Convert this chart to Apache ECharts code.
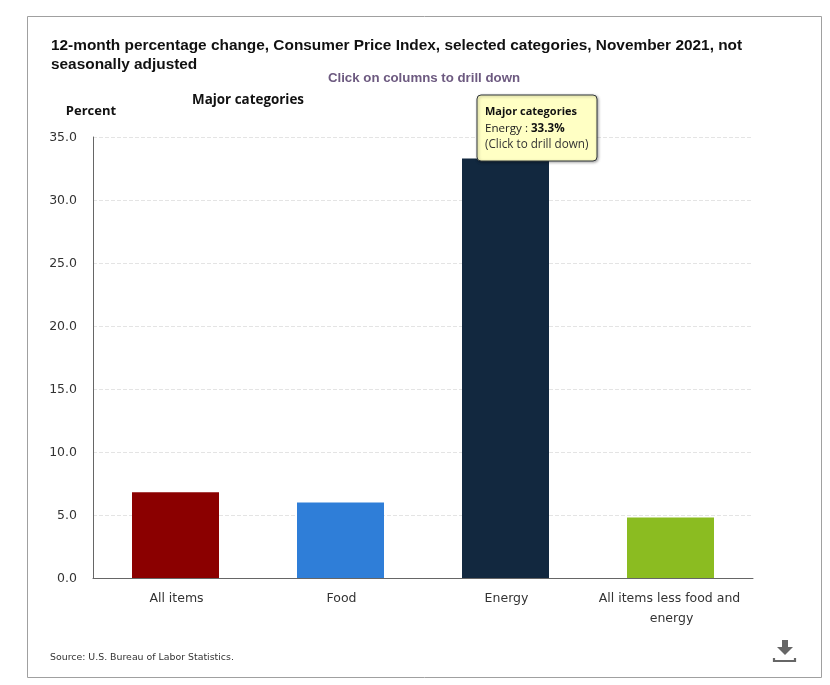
<!DOCTYPE html>
<html><head><meta charset="utf-8">
<style>html,body{margin:0;padding:0;background:#fff}#c{width:830px;height:685px}</style>
<script src="https://cdn.jsdelivr.net/npm/echarts@6/dist/echarts.min.js"></script>
</head><body><div id="c"></div>
<script>
const categories = ['All items', 'Food', 'Energy', 'All items less food and energy'];
const values = [6.8, 6.0, 33.3, 4.8];
const colors = ['#8b0000', '#2f7ed8', '#12283f', '#8bbc21'];
const titleText = '12-month percentage change, Consumer Price Index, selected categories, November 2021, not\nseasonally adjusted';
const subtitleText = 'Click on columns to drill down';
const seriesName = 'Major categories';
const yName = 'Percent';
const sourceText = 'Source: U.S. Bureau of Labor Statistics.';
const tipIndex = 2;

const bodyFont = '"DejaVu Sans", Verdana, sans-serif';
const chart = echarts.init(document.getElementById('c'), null, {renderer: 'canvas'});
chart.setOption({
  animation: false,
  backgroundColor: '#fff',
  grid: {left: 93, right: 77, top: 137, bottom: 107, containLabel: false},
  xAxis: {
    type: 'category', data: categories,
    axisLine: {lineStyle: {color: '#666', width: 1}},
    axisTick: {show: false},
    axisLabel: {color: '#333', fontFamily: bodyFont, fontSize: 12.5, lineHeight: 20, margin: 11, width: 155, overflow: 'break', interval: 0, padding: [0, 0, 0, 2]}
  },
  yAxis: {
    type: 'value', min: 0, max: 35, interval: 5,
    axisLine: {show: true, lineStyle: {color: '#666', width: 1}},
    axisTick: {show: false},
    axisLabel: {color: '#333', fontFamily: bodyFont, fontSize: 12.5, margin: 16, formatter: v => '{v|' + v.toFixed(1) + '}',
      rich: {v: {color: '#333', fontFamily: bodyFont, fontSize: 12.5, padding: [2, 0, 0, 0]}}},
    splitLine: {lineStyle: {color: '#e4e4e4', type: 'dashed', width: 1}}
  },
  series: [{
    type: 'bar', name: seriesName, barWidth: 87,
    data: values.map((v, i) => ({value: v, itemStyle: {color: colors[i]}}))
  }],
  graphic: [
    {type: 'rect', silent: true, shape: {x: 27.5, y: 16.5, width: 794, height: 661}, style: {fill: 'none', stroke: '#a0a0a0', lineWidth: 1}, z: -1},
    {type: 'text', x: 51, y: 36, style: {text: titleText, fill: '#111', font: 'bold 15.4px "Liberation Sans", Arial, sans-serif', lineHeight: 19}},
    {type: 'text', x: 424, y: 72, style: {text: subtitleText, fill: '#6d5a80', font: 'bold 13.25px "Liberation Sans", Arial, sans-serif', align: 'center'}},
    {type: 'text', x: 248, y: 94, style: {text: seriesName, fill: '#111', font: 'bold 13.4px "Open Sans", sans-serif', align: 'center'}},
    {type: 'text', x: 91, y: 105, style: {text: yName, fill: '#111', font: 'bold 13px "Open Sans", sans-serif', align: 'center'}},
    {type: 'text', x: 50, y: 653, style: {text: sourceText, fill: '#333', font: '9.4px "DejaVu Sans", Verdana, sans-serif'}},
    {type: 'rect', z: 20, shape: {x: 477, y: 95, width: 120, height: 66, r: 4},
      style: {fill: '#ffffc4', stroke: '#33383c', lineWidth: 1, shadowBlur: 3, shadowColor: 'rgba(0,0,0,0.35)', shadowOffsetX: 1, shadowOffsetY: 1}},
    {type: 'text', z: 21, x: 485, y: 106, style: {text: seriesName, fill: '#111', font: 'bold 11px "Open Sans", sans-serif'}},
    {type: 'text', z: 21, x: 485, y: 123, style: {
      rich: {a: {fill: '#222', font: '11.6px "Open Sans", sans-serif'}, b: {fill: '#111', font: 'bold 11.6px "Open Sans", sans-serif'}},
      text: '{a|' + categories[tipIndex] + ' : }{b|' + values[tipIndex].toFixed(1) + '%}'}},
    {type: 'text', z: 21, x: 485, y: 139, style: {text: '(Click to drill down)', fill: '#333', font: '11.7px "Open Sans", sans-serif'}},
    {type: 'polygon', z: 5, shape: {points: [[782,640],[788,640],[788,647],[793,647],[785,655],[777,647],[782,647]]}, style: {fill: '#666'}},
    {type: 'polyline', z: 5, shape: {points: [[774,658],[774,661],[795,661],[795,658]]}, style: {stroke: '#666', lineWidth: 2.2, fill: 'none'}}
  ]
});
</script></body></html>
